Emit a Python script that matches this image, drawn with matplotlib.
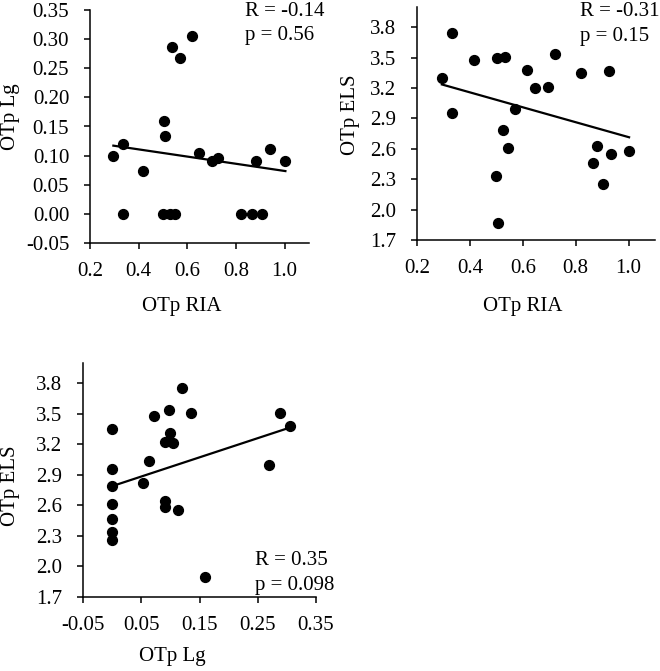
import numpy as np
import matplotlib
matplotlib.use('Agg')
import matplotlib.pyplot as plt
from matplotlib.ticker import FormatStrFormatter

# dados lidos do gráfico
# painel 1: OTp RIA x OTp Lg
ria_1 = [0.296, 0.334, 0.334, 0.416, 0.501, 0.506, 0.510, 0.528, 0.549, 0.535, 0.571,
         0.619, 0.649, 0.701, 0.725, 0.822, 0.866, 0.907, 0.881, 0.939, 1.003]
lg_1 = [0.100, 0.120, 0.0, 0.073, 0.0, 0.160, 0.134, 0.0, 0.0, 0.287, 0.268,
        0.305, 0.104, 0.090, 0.096, 0.0, 0.0, 0.0, 0.090, 0.112, 0.090]

# painel 2: OTp RIA x OTp ELS
ria_2 = [0.294, 0.331, 0.331, 0.414, 0.502, 0.534, 0.506, 0.500, 0.525, 0.546, 0.569,
         0.617, 0.645, 0.697, 0.721, 0.821, 0.925, 0.865, 0.881, 0.903, 0.934, 1.002]
els_2 = [3.296, 3.744, 2.957, 3.477, 3.494, 3.504, 1.871, 2.335, 2.786, 2.612, 2.994,
         3.379, 3.204, 3.214, 3.533, 3.349, 3.366, 2.458, 2.632, 2.253, 2.550, 2.580]

# painel 3: OTp Lg x OTp ELS
lg_3 = [0.0, 0.0, 0.0, 0.0, 0.0, 0.0, 0.0, 0.053, 0.063, 0.072, 0.090, 0.091,
        0.091, 0.097, 0.099, 0.105, 0.113, 0.120, 0.135, 0.160, 0.269, 0.288, 0.306]
els_3 = [3.355, 2.963, 2.788, 2.613, 2.465, 2.340, 2.257, 2.823, 3.037, 3.482, 3.222, 2.641,
         2.581, 3.539, 3.311, 3.209, 2.551, 3.753, 3.506, 1.892, 2.996, 3.513, 3.385]

stats_1 = ['R = -0.14', 'p = 0.56']
stats_2 = ['R = -0.31', 'p = 0.15']
stats_3 = ['R = 0.35', 'p = 0.098']

plt.rcParams['font.family'] = ['Liberation Serif', 'DejaVu Serif']
plt.rcParams['font.size'] = 15

W, H = 660, 671
fig = plt.figure(figsize=(W / 100, H / 100), dpi=100)


def px_axes(left, top, right, bottom):
    return fig.add_axes([left / W, 1 - bottom / H, (right - left) / W, (bottom - top) / H])


def ftext(x, y, s, **kw):
    fig.text(x / W, 1 - y / H, s, **kw)


def painel(ax, x, y, xlim, ylim, xticks, yticks, xfmt, yfmt):
    x = np.array(x)
    y = np.array(y)
    ax.scatter(x, y, s=50, color='black', zorder=3, clip_on=False)
    # reta de regressão linear
    a, b = np.polyfit(x, y, 1)
    xs = np.array([x.min(), x.max()])
    ax.plot(xs, a * xs + b, color='black', lw=1.6)
    ax.set_xlim(*xlim)
    ax.set_ylim(*ylim)
    ax.set_xticks(xticks)
    ax.set_yticks(yticks)
    ax.xaxis.set_major_formatter(FormatStrFormatter(xfmt))
    ax.yaxis.set_major_formatter(FormatStrFormatter(yfmt))
    for s in ['top', 'right']:
        ax.spines[s].set_visible(False)
    for s in ['left', 'bottom']:
        ax.spines[s].set_linewidth(1.1)
    ax.tick_params(direction='out', length=4, width=1.1, pad=10)
    ax.tick_params(axis='y', pad=11)


ax1 = px_axes(90, 10, 309, 243)
painel(ax1, ria_1, lg_1, (0.2, 1.1), (-0.05, 0.35),
       np.arange(0.2, 1.01, 0.2), np.arange(-0.05, 0.351, 0.05), '%.1f', '%.2f')

ax2 = px_axes(417, 7, 655, 240)
painel(ax2, ria_2, els_2, (0.2, 1.1), (1.7, 4.0),
       np.arange(0.2, 1.01, 0.2), np.arange(1.7, 3.81, 0.3), '%.1f', '%.1f')

ax3 = px_axes(83, 363, 316, 597)
painel(ax3, lg_3, els_3, (-0.05, 0.35), (1.7, 4.0),
       np.arange(-0.05, 0.351, 0.1), np.arange(1.7, 3.81, 0.3), '%.2f', '%.1f')

# rótulos dos eixos
ftext(182, 306, 'OTp RIA', ha='center', va='center')
ftext(11, 117, 'OTp Lg', ha='center', va='center', rotation=90)
ftext(523, 306, 'OTp RIA', ha='center', va='center')
ftext(350, 115, 'OTp ELS', ha='center', va='center', rotation=90)
ftext(172, 657, 'OTp Lg', ha='center', va='center')
ftext(11, 486, 'OTp ELS', ha='center', va='center', rotation=90)

# R e p
ftext(245, 16.5, stats_1[0], ha='left', va='baseline')
ftext(245, 40, stats_1[1], ha='left', va='baseline')
ftext(580, 16.5, stats_2[0], ha='left', va='baseline')
ftext(580, 40.5, stats_2[1], ha='left', va='baseline')
ftext(255, 565, stats_3[0], ha='left', va='baseline')
ftext(255, 590, stats_3[1], ha='left', va='baseline')

fig.savefig('out.png', dpi=100)
